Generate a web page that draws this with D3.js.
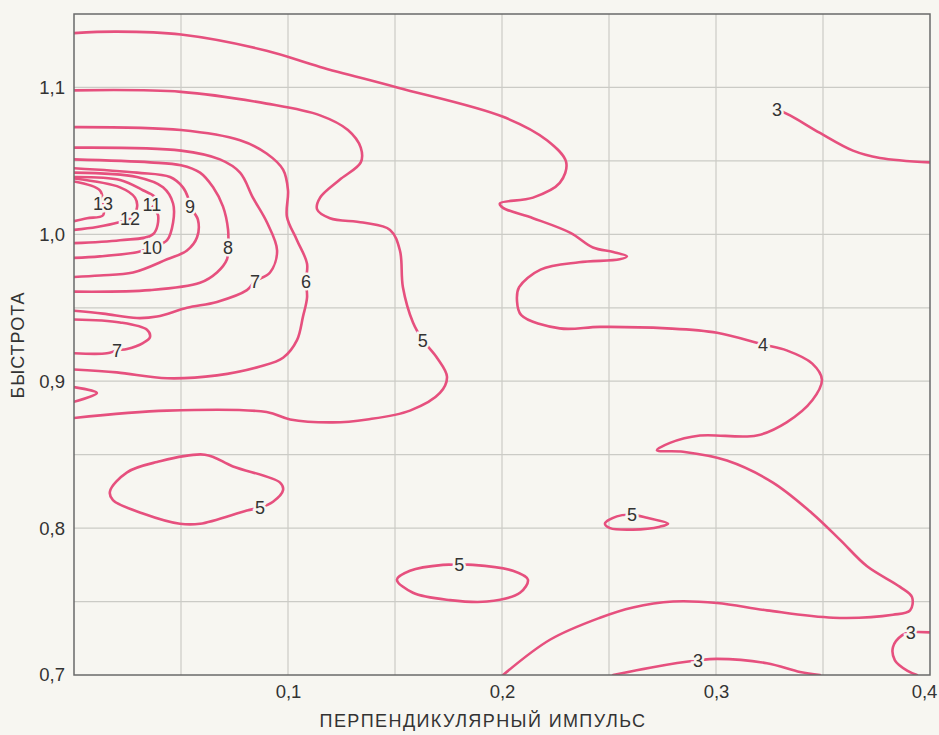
<!DOCTYPE html>
<html>
<head>
<meta charset="utf-8">
<script src="https://cdn.jsdelivr.net/npm/d3@7"></script>
<style>
  body { margin: 0; background: #f7f6f1; }
  svg { display: block; font-family: "Liberation Sans", Arial, sans-serif; }
</style>
</head>
<body>
<div id="chart"></div>
<script>
// axis ticks
const xTicks = [0.1, 0.2, 0.3, 0.4];
const yTicks = [0.7, 0.8, 0.9, 1.0, 1.1];
const xGrid = [0.05, 0.1, 0.15, 0.2, 0.25, 0.3, 0.35];
const yGrid = [0.75, 0.8, 0.85, 0.9, 0.95, 1.0, 1.05, 1.1];

// contour lines: [perp. momentum, rapidity]
const contour4 = [[0,1.137],[0.020,1.138],[0.050,1.136],[0.090,1.125],[0.115,1.114],[0.151,1.100],[0.2005,1.080],[0.221,1.064],[0.230,1.049],[0.227,1.035],[0.2145,1.025],[0.199,1.021],[0.2005,1.018],[0.2145,1.011],[0.232,1.001],[0.2425,0.991],[0.252,0.988],[0.2584,0.985],[0.255,0.983],[0.236,0.981],[0.218,0.976],[0.208,0.964],[0.207,0.955],[0.209,0.945],[0.227,0.936],[0.2458,0.937],[0.2771,0.936],[0.3005,0.933],[0.322,0.925],[0.333,0.921],[0.345,0.912],[0.3495,0.901],[0.345,0.887],[0.333,0.872],[0.319,0.863],[0.2925,0.863],[0.2785,0.858],[0.2724,0.853],[0.2846,0.852],[0.3051,0.846],[0.3266,0.831],[0.345,0.810],[0.358,0.792],[0.3706,0.774],[0.386,0.760],[0.3916,0.753],[0.3907,0.744],[0.3827,0.741],[0.3547,0.739],[0.3238,0.744],[0.3005,0.749],[0.2799,0.750],[0.2612,0.746],[0.2458,0.739],[0.2224,0.724],[0.2005,0.700]];
const contour5 = [[0,1.098],[0.050,1.097],[0.090,1.089],[0.115,1.081],[0.128,1.071],[0.134,1.059],[0.134,1.049],[0.124,1.037],[0.115,1.025],[0.1136,1.017],[0.1196,1.011],[0.135,1.008],[0.1477,1.003],[0.1523,0.989],[0.1537,0.964],[0.1584,0.940],[0.163,0.928],[0.1696,0.916],[0.1743,0.903],[0.171,0.892],[0.157,0.880],[0.137,0.874],[0.121,0.872],[0.101,0.874],[0.090,0.879],[0.0435,0.880],[0,0.875]];
const contour5a = [[0.0168,0.825],[0.0248,0.838],[0.0388,0.845],[0.0612,0.850],[0.0743,0.842],[0.0963,0.831],[0.0977,0.826],[0.093,0.818],[0.0869,0.814],[0.0808,0.812],[0.0589,0.803],[0.0495,0.803],[0.0322,0.810],[0.0182,0.819]];
const contour5b = [[0.1509,0.765],[0.157,0.771],[0.1724,0.775],[0.180,0.775],[0.1864,0.775],[0.2051,0.771],[0.2121,0.765],[0.2084,0.756],[0.193,0.750],[0.1757,0.751],[0.1584,0.756]];
const contour5c = [[0.2481,0.803],[0.2537,0.808],[0.2607,0.809],[0.2678,0.807],[0.2776,0.803],[0.2738,0.801],[0.2612,0.799],[0.2505,0.800]];
const contour6 = [[0,1.073],[0.050,1.071],[0.0776,1.064],[0.090,1.055],[0.0977,1.044],[0.100,1.030],[0.0995,1.012],[0.1042,0.996],[0.1089,0.980],[0.1084,0.968],[0.1089,0.957],[0.107,0.944],[0.1042,0.928],[0.0977,0.916],[0.0869,0.910],[0.0668,0.904],[0.0435,0.902],[0.020,0.906],[0,0.908]];
const contour6a = [[0,0.896],[0.0107,0.892],[0,0.886]];
const contour7 = [[0,1.059],[0.050,1.057],[0.0682,1.051],[0.0776,1.042],[0.0836,1.025],[0.0902,1.008],[0.0949,0.989],[0.0916,0.974],[0.0846,0.968],[0.0808,0.962],[0.0668,0.954],[0.0528,0.950],[0.0388,0.944],[0.0294,0.943],[0.0136,0.946],[0,0.948]];
const contour7a = [[0,0.942],[0.0215,0.940],[0.0341,0.935],[0.0355,0.930],[0.0322,0.926],[0.0248,0.922],[0.0201,0.921],[0.0154,0.919],[0,0.919]];
const contour8 = [[0,1.051],[0.0355,1.049],[0.050,1.047],[0.0589,1.042],[0.065,1.032],[0.0696,1.019],[0.072,1.003],[0.072,0.991],[0.0715,0.983],[0.0668,0.974],[0.0589,0.967],[0.0355,0.962],[0,0.961]];
const contour9 = [[0,1.045],[0.0294,1.042],[0.0449,1.039],[0.0509,1.032],[0.0533,1.025],[0.0542,1.019],[0.0579,1.010],[0.0575,0.998],[0.0528,0.989],[0.0435,0.983],[0.0276,0.974],[0.0121,0.972],[0,0.971]];
const contour10 = [[0,1.042],[0.0294,1.039],[0.0416,1.032],[0.0463,1.021],[0.0463,1.008],[0.0435,0.996],[0.0364,0.991],[0.0299,0.988],[0.0121,0.985],[0,0.984]];
const contour11 = [[0,1.039],[0.0215,1.037],[0.0322,1.030],[0.0379,1.025],[0.0364,1.020],[0.0393,1.013],[0.0369,1.000],[0.0215,0.996],[0,0.994]];
const contour12 = [[0,1.038],[0.0215,1.032],[0.0285,1.025],[0.0294,1.018],[0.0262,1.011],[0.0206,1.008],[0.0107,1.005],[0,1.003]];
const contour13 = [[0,1.036],[0.0121,1.030],[0.0136,1.021],[0.0136,1.013],[0.0061,1.011],[0,1.009]];
const contour3a = [[0.3285,1.085],[0.3346,1.081],[0.3486,1.069],[0.364,1.057],[0.3766,1.052],[0.4,1.049]];
const contour3b = [[0.2519,0.700],[0.2692,0.705],[0.2916,0.710],[0.3005,0.711],[0.3238,0.708],[0.3393,0.702],[0.3486,0.700]];
const contour3c = [[0.4,0.729],[0.391,0.729],[0.3869,0.727],[0.3827,0.719],[0.3836,0.710],[0.3893,0.703],[0.3939,0.700]];

const openLines = [contour4, contour5, contour6, contour6a, contour7, contour7a, contour8, contour9,
  contour10, contour11, contour12, contour13, contour3a, contour3b, contour3c];
const closedLines = [contour5a, contour5b, contour5c];

// level labels on the lines
const labelText = ['4', '5', '5', '5', '5', '6', '7', '7', '8', '9', '10', '11', '12', '13', '3', '3', '3'];
const labelX = [0.322, 0.163, 0.0869, 0.180, 0.2607, 0.1084, 0.0846, 0.0201, 0.072, 0.0542, 0.0364, 0.0364, 0.0262, 0.0136, 0.3285, 0.2916, 0.391];
const labelY = [0.925, 0.928, 0.814, 0.775, 0.809, 0.968, 0.968, 0.921, 0.991, 1.019, 0.991, 1.020, 1.011, 1.021, 1.085, 0.710, 0.729];

const width = 939, height = 735;
const margin = {top: 14, right: 9, bottom: 60, left: 74};
const bg = '#f7f6f1';
const pink = '#e6507e';
const ink = '#333333';

const svg = d3.select('#chart').append('svg').attr('width', width).attr('height', height);

const x = d3.scaleLinear().domain([0, 0.4]).range([margin.left, width - margin.right]);
const y = d3.scaleLinear().domain([0.7, 1.15]).range([height - margin.bottom, margin.top]);

svg.append('clipPath').attr('id', 'plot')
  .append('rect')
  .attr('x', x(0)).attr('y', y(1.15))
  .attr('width', x(0.4) - x(0)).attr('height', y(0.7) - y(1.15));

// grid
svg.append('g').selectAll('line').data(xGrid).enter().append('line')
  .attr('x1', d => x(d)).attr('x2', d => x(d))
  .attr('y1', y(0.7)).attr('y2', y(1.15))
  .style('stroke', '#cbcbc6').style('stroke-width', 1.2);
svg.append('g').selectAll('line').data(yGrid).enter().append('line')
  .attr('x1', x(0)).attr('x2', x(0.4))
  .attr('y1', d => y(d)).attr('y2', d => y(d))
  .style('stroke', '#cbcbc6').style('stroke-width', 1.2);

// contours
let lineOpen = d3.line().x(d => x(d[0])).y(d => y(d[1])).curve(d3.curveCatmullRom.alpha(0.5));
let lineClosed = d3.line().x(d => x(d[0])).y(d => y(d[1])).curve(d3.curveCatmullRomClosed.alpha(0.5));

let contours = svg.append('g').attr('clip-path', 'url(#plot)');
contours.selectAll('path.open').data(openLines).enter().append('path')
  .attr('class', 'open')
  .attr('d', lineOpen)
  .style('fill', 'none').style('stroke', pink).style('stroke-width', 2.6)
  .style('stroke-linejoin', 'round').style('stroke-linecap', 'round');
contours.selectAll('path.closed').data(closedLines).enter().append('path')
  .attr('class', 'closed')
  .attr('d', lineClosed)
  .style('fill', 'none').style('stroke', pink).style('stroke-width', 2.6);

// labels with a halo cutting the line
svg.append('g').selectAll('text').data(labelText).enter().append('text')
  .attr('x', (d, i) => x(labelX[i]))
  .attr('y', (d, i) => y(labelY[i]))
  .attr('dy', '0.36em')
  .attr('text-anchor', 'middle')
  .style('font-size', '18px')
  .style('fill', ink)
  .style('stroke', bg).style('stroke-width', 5).style('paint-order', 'stroke')
  .text(d => d);

// frame
svg.append('rect')
  .attr('x', x(0)).attr('y', y(1.15))
  .attr('width', x(0.4) - x(0)).attr('height', y(0.7) - y(1.15))
  .style('fill', 'none').style('stroke', '#6a6a6a').style('stroke-width', 1.5);

const fmt = d => d3.format('.1f')(d).replace('.', ',');

let xAxis = svg.append('g')
  .attr('transform', 'translate(0,' + y(0.7) + ')')
  .call(d3.axisBottom(x).tickValues(xTicks).tickFormat(fmt).tickSize(0).tickPadding(10));
xAxis.select('.domain').remove();
xAxis.selectAll('text').style('font-size', '18.5px').style('fill', ink);
// keep the last label inside the window, as in the original
xAxis.selectAll('text').filter(d => d === 0.4).attr('dx', -6);

let yAxis = svg.append('g')
  .attr('transform', 'translate(' + x(0) + ',0)')
  .call(d3.axisLeft(y).tickValues(yTicks).tickFormat(fmt).tickSize(0).tickPadding(9));
yAxis.select('.domain').remove();
yAxis.selectAll('text').style('font-size', '18.5px').style('fill', ink);

svg.append('text')
  .attr('x', 483).attr('y', 727)
  .attr('text-anchor', 'middle')
  .style('font-size', '18px').style('letter-spacing', '1.4px').style('fill', ink)
  .text('ПЕРПЕНДИКУЛЯРНЫЙ ИМПУЛЬС');

svg.append('text')
  .attr('transform', 'translate(24,' + 345 + ') rotate(-90)')
  .attr('text-anchor', 'middle')
  .style('font-size', '18px').style('letter-spacing', '1px').style('fill', ink)
  .text('БЫСТРОТА');
</script>
</body>
</html>
